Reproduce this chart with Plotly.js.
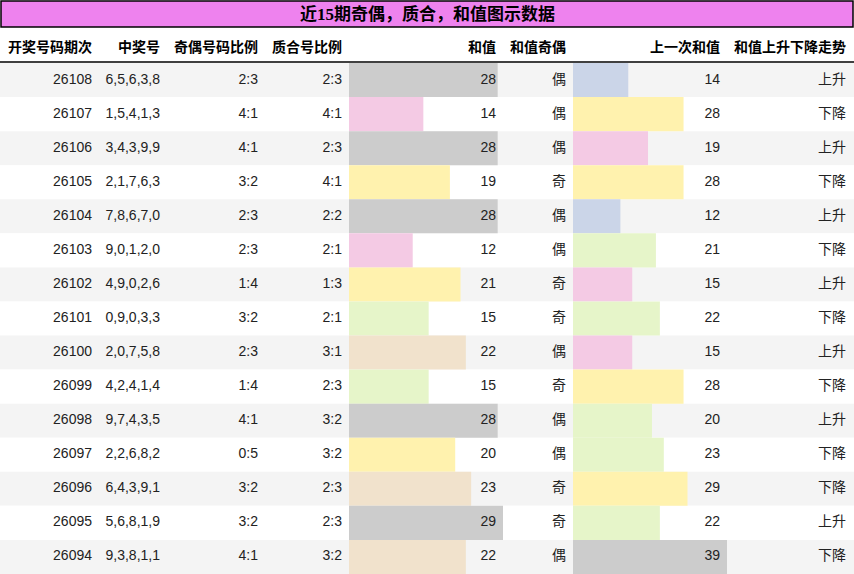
<!DOCTYPE html>
<html>
<head>
<meta charset="utf-8">
<script src="https://cdn.plot.ly/plotly-3.0.1.min.js"></script>
<style>
  html, body { margin: 0; padding: 0; background: #fff; }
  #chart { width: 854px; height: 574px; }
</style>
</head>
<body>
<div id="chart"></div>
<script>
// table data, newest draw first
const periods = [26108, 26107, 26106, 26105, 26104, 26103, 26102, 26101, 26100, 26099, 26098, 26097, 26096, 26095, 26094];
const numbers = ["6,5,6,3,8", "1,5,4,1,3", "3,4,3,9,9", "2,1,7,6,3", "7,8,6,7,0", "9,0,1,2,0", "4,9,0,2,6", "0,9,0,3,3",
  "2,0,7,5,8", "4,2,4,1,4", "9,7,4,3,5", "2,2,6,8,2", "6,4,3,9,1", "5,6,8,1,9", "9,3,8,1,1"];
const oddEven = ["2:3", "4:1", "4:1", "3:2", "2:3", "2:3", "1:4", "3:2", "2:3", "1:4", "4:1", "0:5", "3:2", "3:2", "4:1"];
const primeComp = ["2:3", "4:1", "2:3", "4:1", "2:2", "2:1", "1:3", "2:1", "3:1", "2:3", "3:2", "3:2", "2:3", "2:3", "3:2"];
const sums = [28, 14, 28, 19, 28, 12, 21, 15, 22, 15, 28, 20, 23, 29, 22];
const sumParity = ["偶", "偶", "偶", "奇", "偶", "偶", "奇", "奇", "偶", "奇", "偶", "偶", "奇", "奇", "偶"];
const prevSums = [14, 28, 19, 28, 12, 21, 15, 22, 15, 28, 20, 23, 29, 22, 39];
const trend = ["上升", "下降", "上升", "下降", "上升", "下降", "上升", "下降", "上升", "下降", "上升", "下降", "下降", "上升", "下降"];

const headers = ["开奖号码期次", "中奖号", "奇偶号码比例", "质合号比例", "和值", "和值奇偶", "上一次和值", "和值上升下降走势"];
const titleText = "近15期奇偶，质合，和值图示数据";

// layout constants (pixels)
const W = 854, H = 574;
const titleH = 27, headBottom = 63;
const colRight = [92, 160, 258, 342, 496, 566, 720, 846];
const sumCol = [349, 503];
const prevCol = [573, 727];

const pastel2 = ["#b3e2cd", "#fdcdac", "#cbd5e8", "#f4cae4", "#e6f5c9", "#fff2ae", "#f1e2cc", "#cccccc"];

// color by value bin (0..max split in 8)
function binColors(vals) {
  const max = Math.max(...vals);
  return vals.map((v) => pastel2[Math.min(7, Math.floor((v / max) * 8))]);
}

const rows = periods.map((_, i) => i);
const bodyFont = { family: "Liberation Sans, Noto Sans CJK SC, sans-serif", size: 14, color: "#222" };

// text goes on x3 so it is drawn above the bar subplots
function textCol(colIdx, vals) {
  return {
    type: "scatter",
    mode: "text",
    x: rows.map(() => colRight[colIdx]),
    y: rows,
    text: vals.map(String),
    textposition: "middle left",
    textfont: bodyFont,
    hoverinfo: "skip",
    showlegend: false,
    cliponaxis: false,
    xaxis: "x3",
    yaxis: "y",
  };
}

function barCol(vals, axis) {
  return {
    type: "bar",
    orientation: "h",
    x: vals,
    y: rows,
    width: 1,
    marker: { color: binColors(vals), line: { width: 0 } },
    hoverinfo: "skip",
    showlegend: false,
    xaxis: axis,
    yaxis: "y",
  };
}

const data = [
  barCol(sums, "x"),
  barCol(prevSums, "x2"),
  textCol(0, periods),
  textCol(1, numbers),
  textCol(2, oddEven),
  textCol(3, primeComp),
  textCol(4, sums),
  textCol(5, sumParity),
  textCol(6, prevSums),
  textCol(7, trend),
];

// row stripes
const shapes = [];
rows.forEach((i) => {
  shapes.push({
    type: "rect", layer: "below",
    xref: "paper", yref: "y",
    x0: 0, x1: 1, y0: i - 0.5, y1: i + 0.5,
    fillcolor: i % 2 === 0 ? "#f4f4f4" : "#ffffff",
    line: { width: 0 },
  });
});
// title box
shapes.push({
  type: "rect", xref: "paper", yref: "paper",
  x0: 1 / W, x1: 1 - 1 / W, y0: 1 - titleH / H, y1: 1 - 1 / H,
  fillcolor: "#ee82ee", line: { color: "#000", width: 1.5 }, layer: "below",
});
// header underline
shapes.push({
  type: "line", xref: "paper", yref: "paper",
  x0: 0, x1: 1, y0: 1 - (headBottom - 1) / H, y1: 1 - (headBottom - 1) / H,
  line: { color: "#000", width: 1.5 },
});

const annotations = headers.map((h, k) => ({
  text: "<b>" + h + "</b>",
  xref: "x3", yref: "paper",
  x: colRight[k] + 2, y: 1 - 46 / H,
  xanchor: "right", yanchor: "middle",
  showarrow: false,
  font: { family: "Noto Sans CJK SC, sans-serif", size: 14, color: "#000" },
}));
annotations.push({
  text: "<b>" + titleText + "</b>",
  xref: "paper", yref: "paper",
  x: 0.5, y: 1 - 14 / H,
  xanchor: "center", yanchor: "middle",
  showarrow: false,
  font: { family: "Liberation Serif, Noto Sans CJK SC, serif", size: 17, color: "#000" },
});

const hidden = { visible: false, fixedrange: true };

const layout = {
  width: W,
  height: H,
  margin: { t: 0, b: 0, l: 0, r: 0 },
  paper_bgcolor: "#fff",
  plot_bgcolor: "rgba(0,0,0,0)",
  barmode: "overlay",
  xaxis: { ...hidden, domain: [sumCol[0] / W, sumCol[1] / W], range: [0, Math.max(...sums)], anchor: "y" },
  xaxis2: { ...hidden, domain: [prevCol[0] / W, prevCol[1] / W], range: [0, Math.max(...prevSums)], anchor: "y" },
  xaxis3: { ...hidden, domain: [0, 1], range: [0, W], anchor: "y" },
  yaxis: { ...hidden, domain: [0, 1 - headBottom / H], range: [rows.length - 0.5, -0.5] },
  shapes: shapes,
  annotations: annotations,
};

Plotly.newPlot("chart", data, layout, { displayModeBar: false, staticPlot: true });
</script>
</body>
</html>
